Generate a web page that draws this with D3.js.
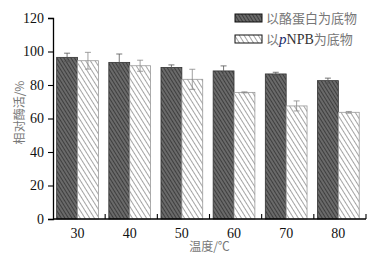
<!DOCTYPE html>
<html>
<head>
<meta charset="utf-8">
<script src="https://cdn.jsdelivr.net/npm/d3@7"></script>
<style>
  body { margin: 0; background: #fff; }
</style>
</head>
<body>
<div id="container"></div>
<script>
// Data
const temps = ["30", "40", "50", "60", "70", "80"];
const seriesNames = ["以酪蛋白为底物", "以pNPB为底物"];
const casein = [96.5, 93.5, 90.5, 88.4, 86.6, 82.6];
const caseinErr = [2.5, 5, 1.5, 3, 1, 1.5];
const pnpb = [94.5, 91.5, 83.4, 75.6, 67.5, 63.7];
const pnpbErr = [5, 3.3, 6, 0.3, 3, 0.5];
const yTicks = [0, 20, 40, 60, 80, 100, 120];

const width = 370;
const height = 261;
const marginTop = 18;
const marginRight = 4;
const marginBottom = 42;
const marginLeft = 53;

const rows = temps.map((t, i) => ({
  temp: t,
  values: [
    { key: 0, value: casein[i], err: caseinErr[i] },
    { key: 1, value: pnpb[i], err: pnpbErr[i] }
  ]
}));

const x = d3.scaleBand()
  .domain(temps)
  .range([marginLeft, width - marginRight])
  .padding(0);

const x1 = d3.scaleBand()
  .domain([0, 1])
  .range([x.bandwidth() * 0.07, x.bandwidth() * 0.87]);

const y = d3.scaleLinear()
  .domain([0, 120])
  .range([height - marginBottom, marginTop]);

const svg = d3.create("svg").attr("width", width).attr("height", height);
document.getElementById("container").appendChild(svg.node());

// hatch patterns
const defs = svg.append("defs");
const darkPat = defs.append("pattern")
  .attr("id", "hatchDark")
  .attr("patternUnits", "userSpaceOnUse")
  .attr("width", 3).attr("height", 3)
  .attr("patternTransform", "rotate(58)");
darkPat.append("rect").attr("width", 3).attr("height", 3).attr("fill", "#6a6a6a");
darkPat.append("line").attr("x1", 0).attr("x2", 3).attr("y1", 0.5).attr("y2", 0.5)
  .attr("stroke", "#3e3e3e").attr("stroke-width", 1);

const lightPat = defs.append("pattern")
  .attr("id", "hatchLight")
  .attr("patternUnits", "userSpaceOnUse")
  .attr("width", 4).attr("height", 4)
  .attr("patternTransform", "rotate(58)");
lightPat.append("rect").attr("width", 4).attr("height", 4).attr("fill", "#fff");
lightPat.append("line").attr("x1", 0).attr("x2", 4).attr("y1", 0.5).attr("y2", 0.5)
  .attr("stroke", "#9a9a9a").attr("stroke-width", 0.9);

const fills = ["url(#hatchDark)", "url(#hatchLight)"];
const strokes = ["#333", "#999"];
const errColors = ["#555", "#888"];

// bars
const groups = svg.append("g")
  .selectAll("g")
  .data(rows)
  .join("g")
  .attr("transform", d => `translate(${x(d.temp)},0)`);

groups.selectAll("rect")
  .data(d => d.values)
  .join("rect")
  .attr("x", d => x1(d.key))
  .attr("y", d => y(d.value))
  .attr("width", x1.bandwidth())
  .attr("height", d => y(0) - y(d.value))
  .attr("fill", d => fills[d.key])
  .attr("stroke", d => strokes[d.key])
  .attr("stroke-width", 0.8);

// error bars
const eb = groups.selectAll("g.err")
  .data(d => d.values)
  .join("g")
  .attr("class", "err")
  .attr("stroke", d => errColors[d.key])
  .attr("stroke-width", 0.8);

eb.append("line")
  .attr("x1", d => x1(d.key) + x1.bandwidth() / 2)
  .attr("x2", d => x1(d.key) + x1.bandwidth() / 2)
  .attr("y1", d => y(d.value + d.err))
  .attr("y2", d => y(d.value - d.err));
eb.append("line")
  .attr("x1", d => x1(d.key) + x1.bandwidth() / 2 - 3)
  .attr("x2", d => x1(d.key) + x1.bandwidth() / 2 + 3)
  .attr("y1", d => y(d.value + d.err))
  .attr("y2", d => y(d.value + d.err));
eb.append("line")
  .attr("x1", d => x1(d.key) + x1.bandwidth() / 2 - 3)
  .attr("x2", d => x1(d.key) + x1.bandwidth() / 2 + 3)
  .attr("y1", d => y(d.value - d.err))
  .attr("y2", d => y(d.value - d.err));

// x-axis: baseline, inward ticks at group borders, labels centred
const xAxis = svg.append("g")
  .attr("transform", `translate(0,${y(0)})`);
xAxis.append("line")
  .attr("x1", marginLeft).attr("x2", width - marginRight)
  .attr("stroke", "#000").attr("stroke-width", 1.3);
xAxis.selectAll("line.tick")
  .data(temps.slice(1).concat(["end"]))
  .join("line")
  .attr("class", "tick")
  .attr("x1", (d, i) => marginLeft + (i + 1) * x.bandwidth())
  .attr("x2", (d, i) => marginLeft + (i + 1) * x.bandwidth())
  .attr("y1", 0).attr("y2", -5)
  .attr("stroke", "#000").attr("stroke-width", 1.1);
xAxis.selectAll("text")
  .data(temps)
  .join("text")
  .attr("x", d => x(d) + x.bandwidth() * 0.47)
  .attr("y", 19)
  .attr("text-anchor", "middle")
  .attr("font-family", "Liberation Serif, serif")
  .attr("font-size", 14)
  .attr("fill", "#111")
  .text(d => d);

// y-axis
svg.append("g")
  .attr("transform", `translate(${marginLeft},0)`)
  .call(d3.axisLeft(y).tickValues(yTicks).tickSize(5).tickPadding(4))
  .call(g => g.select(".domain").attr("stroke-width", 1.3))
  .call(g => g.selectAll(".tick line").attr("stroke-width", 1.1))
  .call(g => g.selectAll(".tick text")
    .attr("font-family", "Liberation Serif, serif")
    .attr("font-size", 14)
    .attr("fill", "#111"));

// axis titles
svg.append("text")
  .attr("transform", `translate(24,${(y(0) + y(120)) / 2 - 6}) rotate(-90)`)
  .attr("text-anchor", "middle")
  .attr("font-family", "Noto Sans CJK SC, sans-serif")
  .attr("font-size", 12)
  .attr("fill", "#777")
  .text("相对酶活/%");

svg.append("text")
  .attr("x", (marginLeft + width - marginRight) / 2)
  .attr("y", 251)
  .attr("text-anchor", "middle")
  .attr("font-family", "Noto Sans CJK SC, sans-serif")
  .attr("font-size", 12)
  .attr("fill", "#777")
  .text("温度/℃");

// legend
const legend = svg.append("g").attr("transform", "translate(235,14)");
const li = legend.selectAll("g")
  .data(seriesNames)
  .join("g")
  .attr("transform", (d, i) => `translate(0,${i * 21})`);
li.append("rect")
  .attr("width", 27).attr("height", 8)
  .attr("fill", (d, i) => fills[i])
  .attr("stroke", "#111").attr("stroke-width", 1);
const lt = li.append("text")
  .attr("x", 31).attr("y", 9)
  .attr("font-family", "Noto Sans CJK SC, sans-serif")
  .attr("font-size", 13)
  .attr("fill", "#777");
lt.filter((d, i) => i === 0).text(d => d);
lt.filter((d, i) => i === 1).each(function (d) {
  const t = d3.select(this);
  t.append("tspan").text("以");
  t.append("tspan").attr("font-family", "Liberation Serif, serif").attr("font-style", "italic")
    .attr("font-size", 15).attr("fill", "#1a2a6a").text("p");
  t.append("tspan").attr("font-family", "Liberation Serif, serif").attr("font-size", 14)
    .attr("fill", "#333").text("NPB");
  t.append("tspan").text("为底物");
});
</script>
</body>
</html>
